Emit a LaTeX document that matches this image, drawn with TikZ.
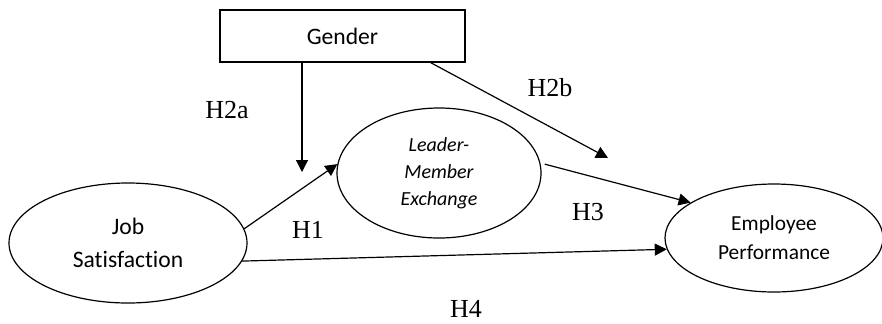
\documentclass[tikz,border=0pt]{standalone}
\usepackage{fontspec}
\setmainfont{Liberation Serif}
\setsansfont[Ligatures=NoCommon]{Carlito}
\usetikzlibrary{shapes.geometric}
\usetikzlibrary{positioning}
\usetikzlibrary{arrows.meta}

\begin{document}
\begin{tikzpicture}[x=0.5pt,y=-0.5pt,>={Triangle[length=6pt,width=6pt]},line width=0.6pt,
	oval node/.style={ellipse,draw,inner sep=0pt,align=center},
	box node/.style={rectangle,draw,minimum width=122.5pt,minimum height=26pt,
		font=\sffamily\fontsize{11.8}{14}\selectfont},
	hyp label/.style={inner sep=0pt,font=\fontsize{13}{15}\selectfont}]
	
	\useasboundingbox (0,0) rectangle (882,323);
	
	\node[box node] (gender) at (342.5,36) {Gender};
	\node[oval node,minimum width=119pt,minimum height=60pt,
		font=\sffamily\fontsize{11.8}{16.5}\selectfont] (js) at (128,243) {Job\\Satisfaction};
	\node[oval node,minimum width=102pt,minimum height=65pt,
		font=\sffamily\itshape\fontsize{10}{13.5}\selectfont] (lmx) at (439,173) {Leader-\\Member\\Exchange};
	\node[oval node,minimum width=109pt,minimum height=54pt,
		font=\sffamily\fontsize{10.7}{14.5}\selectfont] (ep) at (774,238) {Employee\\Performance};
	
	% hypothesis labels
	\node[hyp label] (h2a) at (227,110) {H2a};
	\node[hyp label] (h2b) at (550,88) {H2b};
	\node[hyp label] (h1) at (308,230) {H1};
	\node[hyp label] (h3) at (588,212) {H3};
	\node[hyp label] (h4) at (466,309) {H4};
	
	% moderator ends
	\coordinate (h2a end) at (302,172);
	\coordinate (h2b end) at (608,158);
	
	\draw[->] (gender.south -| h2a end) -- (h2a end);
	\draw[->] ([xshift=-17.5pt]gender.south east) -- (h2b end);
	
	\path[->]
	(js.7) edge (lmx.175)
	([xshift=2pt]lmx.5) edge (ep.157)
	(js.-9) edge (ep.186);
\end{tikzpicture}
\end{document}
